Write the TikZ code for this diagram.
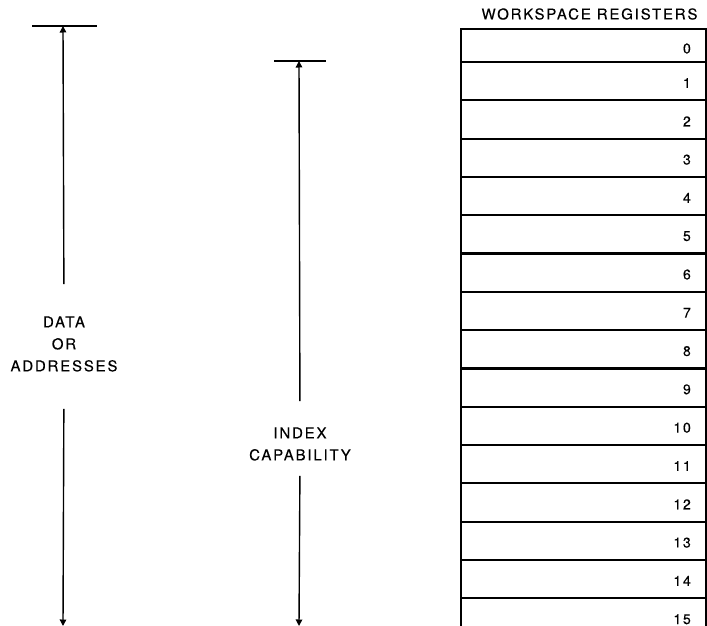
\documentclass[tikz,border=0pt]{standalone}
\usepackage{fontspec}
\setmainfont{TeX Gyre Heros}[LetterSpace=12,FakeBold=0.3]
\usetikzlibrary{arrows.meta}

\tikzset{
  tbar/.style={line width=2.3pt},
  arr/.style={line width=1.4pt, -{Triangle[length=6.5pt,width=6.5pt]}},
  regline/.style={line width=2.2pt},
  lbl/.style={font=\fontsize{15}{22}\selectfont, align=center, inner sep=0pt},
  num/.style={font=\fontsize{14}{16}\selectfont, anchor=east, inner sep=0pt}
}

\begin{document}
\begin{tikzpicture}[x=1pt,y=-1pt]

\useasboundingbox (0,0) rectangle (707,626);

% data or addresses
\coordinate (topL) at (63,26);

\coordinate (botL) at (63,626);

\draw[tbar] (32,26) -- (97,26);

\node[lbl] (data) at (64,344) {DATA\\OR\\ADDRESSES};

\draw[arr, shorten <=32pt] (data.north) -- (topL);

\draw[arr, shorten <=37pt] (data.south) -- (botL);

% index capability
\coordinate (topM) at (299,61);

\coordinate (botM) at (299,626);

\draw[tbar] (274,61) -- (326,61);

\node[lbl] (index) at (300,444) {INDEX\\CAPABILITY};

\draw[arr, shorten <=26pt] (index.north) -- (topM);

\draw[arr, shorten <=15pt] (index.south) -- (botM);

% workspace registers
\node[lbl] (title) at (589.5,14) {WORKSPACE REGISTERS};

\draw[regline] (461,626) -- (461,29) -- (706,29) -- (706,626);

\node[num] (r0) at (691,48.5) {0};

\foreach \i in {1,...,15}{
  \pgfmathsetmacro\ry{62+38.3*(\i-1)}
  \draw[regline] (461,\ry) -- (706,\ry);
  \node[num] (r\i) at (691,\ry+21) {\i};
}

\end{tikzpicture}
\end{document}
